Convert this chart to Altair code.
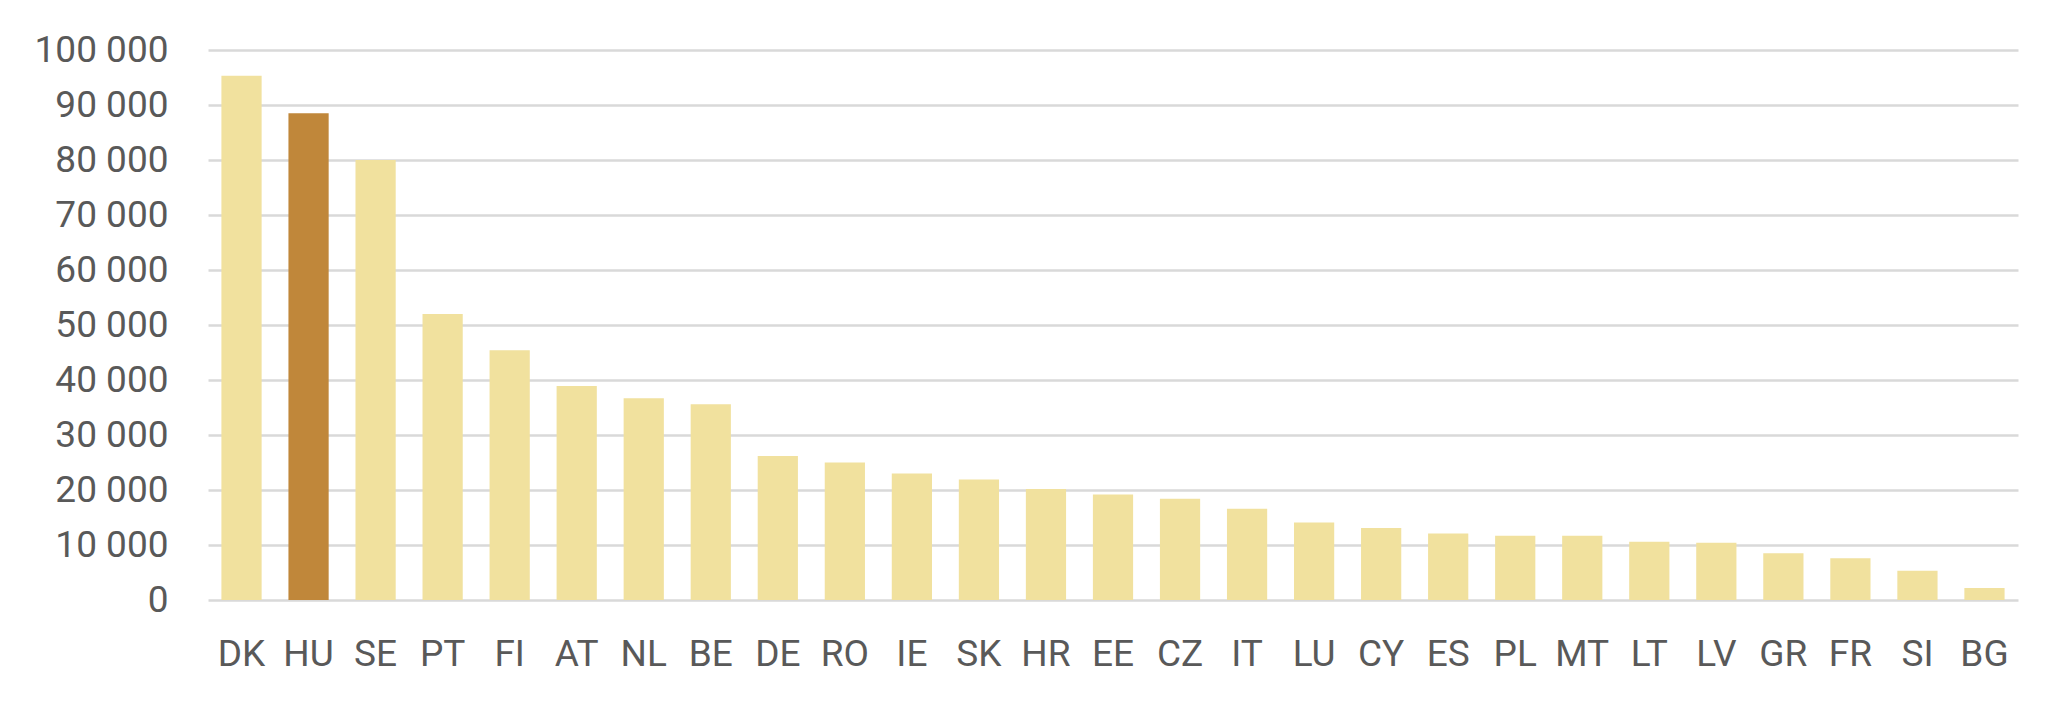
import altair as alt
import pandas as pd

countries = ["DK", "HU", "SE", "PT", "FI", "AT", "NL", "BE", "DE", "RO", "IE", "SK", "HR", "EE",
             "CZ", "IT", "LU", "CY", "ES", "PL", "MT", "LT", "LV", "GR", "FR", "SI", "BG"]
values = [95300, 88500, 80000, 52000, 45400, 38900, 36700, 35600, 26200, 25000, 23000, 21900,
          20200, 19200, 18400, 16600, 14100, 13100, 12100, 11700, 11700, 10600, 10400, 8500,
          7600, 5300, 2200]
highlight = "HU"
y_ticks = [0, 10000, 20000, 30000, 40000, 50000, 60000, 70000, 80000, 90000, 100000]

df = pd.DataFrame({"country": countries, "value": values})

FONT = "Roboto"
TEXT = "#595959"

chart = alt.Chart(df).mark_bar().encode(
    x=alt.X("country:N", sort=countries, title=None,
            scale=alt.Scale(paddingInner=0.4, paddingOuter=0.2),
            axis=alt.Axis(labelAngle=0, domain=False, ticks=False, tickSize=0,
                          labelPadding=36, labelFont=FONT, labelFontSize=37,
                          labelColor=TEXT, grid=False)),
    y=alt.Y("value:Q", title=None,
            scale=alt.Scale(domain=[0, 100000], nice=False),
            axis=alt.Axis(values=y_ticks, domain=False, ticks=False, tickSize=0,
                          labelPadding=40, labelFont=FONT, labelFontSize=37,
                          labelColor=TEXT, gridColor="#D9D9D9", gridWidth=2.5,
                          labelExpr="replace(format(datum.value, ','), regexp(',', 'g'), ' ')")),
    color=alt.condition(alt.datum.country == highlight, alt.value("#C0873A"), alt.value("#F1E19E")),
).properties(
    width=1810,
    height=550,
    autosize=alt.AutoSizeParams(type="none"),
    padding={"left": 200, "top": 42, "right": 30, "bottom": 80},
).configure_view(strokeWidth=0)

chart.save("out.html", embed_options={"renderer": "svg", "actions": False})
